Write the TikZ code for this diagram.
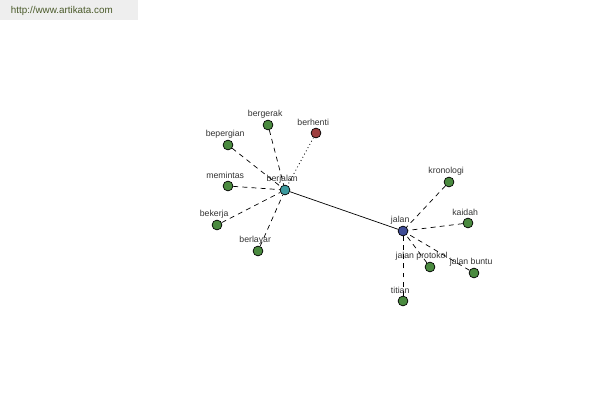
\documentclass[tikz,border=0pt]{standalone}
\usepackage{fontspec}
\setmainfont{Liberation Sans}
\usepackage{tikz}

\definecolor{leafgreen}{HTML}{4A8A3F}
\definecolor{hubteal}{HTML}{3C9A9E}
\definecolor{hubblue}{HTML}{3F4C96}
\definecolor{stopred}{HTML}{9E3E3E}
\definecolor{markgray}{HTML}{EEEEEE}
\definecolor{markgreen}{HTML}{4A5A2A}

\tikzset{
	word/.style={circle, draw=black, line width=0.5pt, inner sep=0pt, minimum size=7pt, fill=leafgreen},
	lbl/.style={font=\fontsize{6.2}{7}\selectfont, text=black!80, inner sep=1pt, label distance=0pt, xshift=-2pt},
	link/.style={dash pattern=on 3.5pt off 3pt, line width=0.5pt},
}

\begin{document}
\begin{tikzpicture}[x=0.025cm, y=-0.025cm]
	\path[use as bounding box, fill=white] (0,0) rectangle (600,400);
	\fill[markgray] (0,0) rectangle (138,20);
	\node[font=\fontsize{7}{8}\selectfont, text=markgreen, anchor=west] (site) at (6,11) {http://www.artikata.com};
	
	% hubs
	\node[word, fill=hubteal, label={[lbl]above:berjalan}] (berjalan) at (285,190) {};
	\node[word, fill=hubblue, label={[lbl]above:jalan}] (jalan) at (403,231) {};
	
	% left cluster
	\node[word, label={[lbl]above:bergerak}] (bergerak) at (268,125) {};
	\node[word, fill=stopred, label={[lbl]above:berhenti}] (berhenti) at (316,133) {};
	\node[word, label={[lbl]above:bepergian}] (bepergian) at (228,145) {};
	\node[word, label={[lbl]above:memintas}] (memintas) at (228,186) {};
	\node[word, label={[lbl]above:bekerja}] (bekerja) at (217,225) {};
	\node[word, label={[lbl]above:berlayar}] (berlayar) at (258,251) {};
	
	% right cluster
	\node[word, label={[lbl]above:kronologi}] (kronologi) at (449,182) {};
	\node[word, label={[lbl]above:kaidah}] (kaidah) at (468,223) {};
	\node[word, label={[lbl, xshift=-4pt]above:jalan protokol}] (protokol) at (430,267) {};
	\node[word, label={[lbl]above:jalan buntu}] (buntu) at (474,273) {};
	\node[word, label={[lbl]above:titian}] (titian) at (403,301) {};
	
	\foreach \w in {bergerak, bepergian, memintas, bekerja, berlayar}
		\draw[link] (\w) -- (berjalan);
	\draw[dotted, line width=0.6pt] (berhenti) -- (berjalan);
	\foreach \w in {kronologi, kaidah, protokol, buntu, titian}
		\draw[link] (\w) -- (jalan);
	\draw[line width=0.5pt] (berjalan) -- (jalan);
\end{tikzpicture}
\end{document}
